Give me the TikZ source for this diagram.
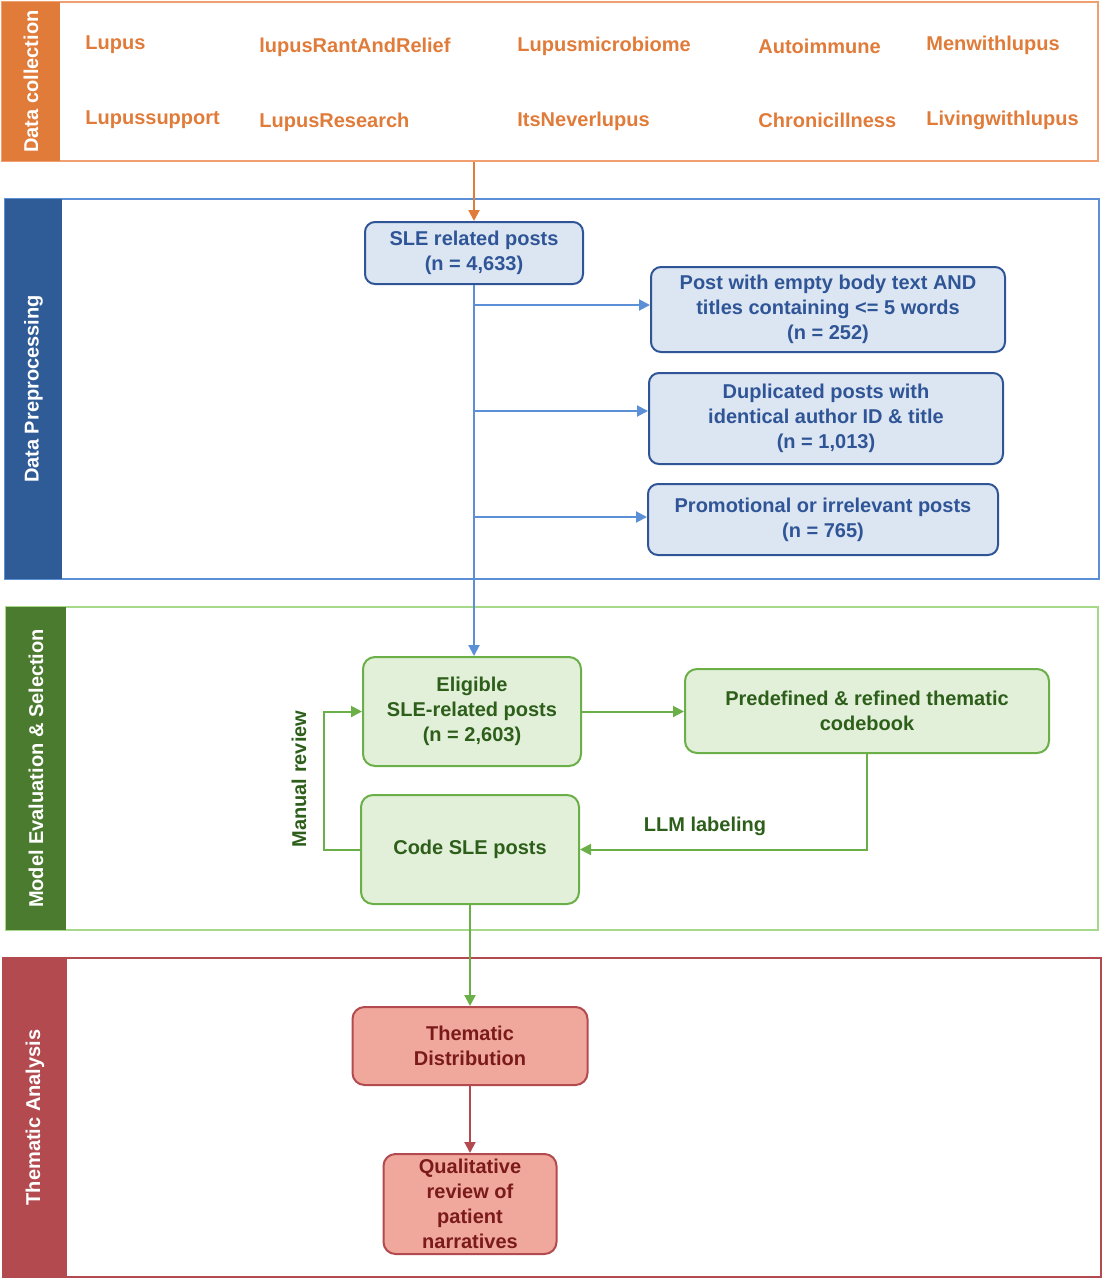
\documentclass[tikz,border=0pt]{standalone}
\usepackage{fontspec}
\setmainfont{Liberation Sans}
\usepackage{tikz}
\usetikzlibrary{arrows.meta}

\definecolor{dcorange}{HTML}{E07B39}
\definecolor{dcline}{HTML}{F0A070}
\definecolor{ppbar}{HTML}{2F5B96}
\definecolor{ppline}{HTML}{5B8FD6}
\definecolor{ppfill}{HTML}{DCE6F2}
\definecolor{pptext}{HTML}{2F5597}
\definecolor{mebar}{HTML}{4B7B2F}
\definecolor{meline}{HTML}{A6D98A}
\definecolor{mefill}{HTML}{E2F0D9}
\definecolor{megreen}{HTML}{6AAF47}
\definecolor{metext}{HTML}{2D5F1B}
\definecolor{tared}{HTML}{B24A4F}
\definecolor{tafill}{HTML}{F0A89C}
\definecolor{tatext}{HTML}{7B1A1A}

\begin{document}
\begin{tikzpicture}[x=0.5pt,y=-0.5pt]

      \tikzstyle{every node}=[font=\fontsize{10}{12.5}\selectfont\bfseries,
                            inner sep=0pt, align=center]
      \tikzstyle{panel}=[draw, line width=1pt, fill=none]
      \tikzstyle{bar}=[fill, rotate=90, text=white]
      \tikzstyle{subreddit}=[anchor=west, text=dcorange]
      \tikzstyle{ppbox}=[draw=pptext, fill=ppfill, text=pptext, line width=1pt,
                            rounded corners=5pt]
      \tikzstyle{mebox}=[draw=megreen, fill=mefill, text=metext, line width=1pt,
                            rounded corners=6pt]
      \tikzstyle{tabox}=[draw=tared, fill=tafill, text=tatext, line width=1pt,
                            rounded corners=6pt]
      \tikzstyle{arrow}=[line width=1pt, -{Triangle[length=5.5pt,width=5.5pt]}]

      \useasboundingbox (0,0) rectangle (1105,1280);

      % panels
      \node[panel, draw=dcline, minimum width=548pt, minimum height=79.5pt]
          (dcpanel) at (550,81.5) {};
      \node[bar, fill=dcorange, minimum width=79.5pt, minimum height=29pt]
          (dcbar) at (31,81.5) {Data collection};

      \node[panel, draw=ppline, minimum width=547pt, minimum height=190pt]
          (pppanel) at (552,389) {};
      \node[bar, fill=ppbar, minimum width=190pt, minimum height=28.5pt]
          (ppbar) at (33.5,389) {Data Preprocessing};

      \node[panel, draw=meline, minimum width=546pt, minimum height=161.5pt]
          (mepanel) at (552,768.5) {};
      \node[bar, fill=mebar, minimum width=161.5pt, minimum height=30pt]
          (mebar) at (36,768.5) {Model Evaluation \& Selection};

      \node[panel, draw=tared, minimum width=549pt, minimum height=159.5pt]
          (tapanel) at (552,1117.5) {};
      \node[bar, fill=tared, minimum width=159.5pt, minimum height=32pt]
          (tabar) at (35,1117.5) {Thematic Analysis};

      % subreddits
      \node[subreddit] (s1) at (85,45) {Lupus};
      \node[subreddit] (s2) at (259,47) {lupusRantAndRelief};
      \node[subreddit] (s3) at (517,46) {Lupusmicrobiome};
      \node[subreddit] (s4) at (758,46) {Autoimmune};
      \node[subreddit] (s5) at (926,45) {Menwithlupus};
      \node[subreddit] (s6) at (85,120) {Lupussupport};
      \node[subreddit] (s7) at (259,122) {LupusResearch};
      \node[subreddit] (s8) at (517,121) {ItsNeverlupus};
      \node[subreddit] (s9) at (758,120) {Chronicillness};
      \node[subreddit] (s10) at (926,120) {Livingwithlupus};

      % preprocessing
      \node[ppbox, minimum width=109pt, minimum height=31pt]
          (sle) at (474,253) {SLE related posts\\(n = 4,633)};
      \node[ppbox, minimum width=177pt, minimum height=42.5pt]
          (empty) at (828,309.5) {Post with empty body text AND\\titles containing <= 5 words\\(n = 252)};
      \node[ppbox, minimum width=177pt, minimum height=45.5pt]
          (dup) at (826,418.5) {Duplicated posts with\\identical author ID \& title\\(n = 1,013)};
      \node[ppbox, minimum width=175pt, minimum height=35.5pt]
          (promo) at (823,519.5) {Promotional or irrelevant posts\\(n = 765)};

      % model evaluation
      \node[mebox, minimum width=109pt, minimum height=54.5pt]
          (elig) at (472,711.5) {Eligible\\SLE-related posts\\(n = 2,603)};
      \node[mebox, minimum width=182pt, minimum height=42pt]
          (codebook) at (867,711) {Predefined \& refined thematic\\codebook};
      \node[mebox, minimum width=109pt, minimum height=54.5pt]
          (code) at (470,849.5) {Code SLE posts};

      % thematic analysis
      \node[tabox, minimum width=117.5pt, minimum height=39pt]
          (dist) at (470,1046) {Thematic\\Distribution};
      \node[tabox, minimum width=86.5pt, minimum height=50pt]
          (qual) at (470,1204) {Qualitative\\review of\\patient\\narratives};

      % connectors
      \draw[arrow, dcorange] (dcpanel.south -| sle) -- (sle.north);
      \draw[arrow, ppline] (sle.south) -- (sle.south |- elig.north);
      \coordinate (b1) at (474,305);
      \coordinate (b2) at (474,411);
      \coordinate (b3) at (474,517);
      \draw[arrow, ppline] (b1) -- (b1 -| empty.west);
      \draw[arrow, ppline] (b2) -- (b2 -| dup.west);
      \draw[arrow, ppline] (b3) -- (b3 -| promo.west);

      \draw[arrow, megreen] (elig.east) -- (elig.east -| codebook.west);
      \draw[arrow, megreen] (codebook.south) |- (code.east);
      \node[text=metext] (llm) at (705,826) {LLM labeling};
      \draw[arrow, megreen] (code.west) -- ++(-36,0) |- (elig.west);
      \node[text=metext, rotate=90] (manual) at (299,779) {Manual review};
      \draw[arrow, megreen] (code.south) -- (dist.north);

      \draw[arrow, tared] (dist.south) -- (qual.north);

    \end{tikzpicture}
\end{document}
